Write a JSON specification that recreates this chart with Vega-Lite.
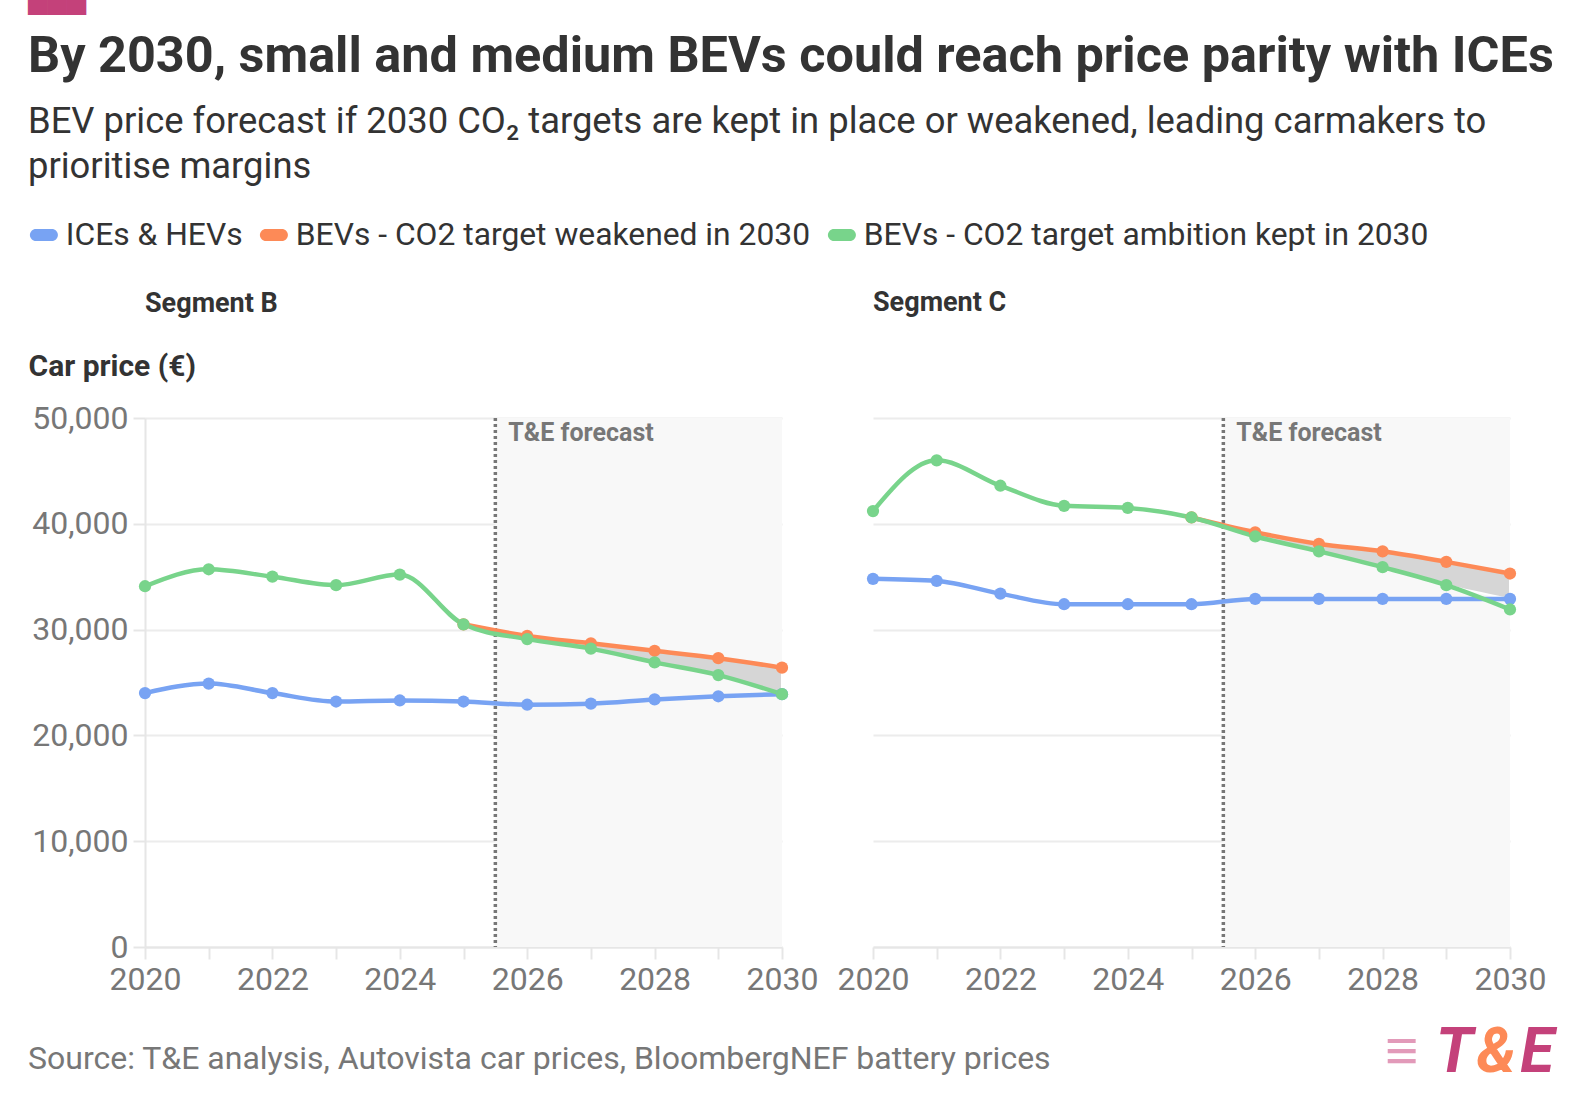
{
  "$schema": "https://vega.github.io/schema/vega-lite/v6.json",
  "background": "white",
  "padding": {"left": 28, "top": 0, "right": 10, "bottom": 10},
  "config": {
    "font": "Roboto",
    "view": {"stroke": null},
    "axis": {
      "labelFont": "Roboto",
      "labelFontSize": 32,
      "labelColor": "#777777",
      "gridColor": "#ececec",
      "gridWidth": 2,
      "domainColor": "#e6e6e6",
      "domainWidth": 2,
      "tickColor": "#e6e6e6",
      "tickWidth": 2,
      "tickSize": 12,
      "labelPadding": 5,
      "labelFlush": false,
      "labelOverlap": false
    },
    "legend": {
      "orient": "none",
      "legendX": -117,
      "legendY": -199,
      "direction": "horizontal",
      "title": null,
      "labelFontSize": 31.8,
      "labelColor": "#333333",
      "labelLimit": 700,
      "columnPadding": 15,
      "labelOffset": 6,
      "symbolSize": 784,
      "symbolStrokeWidth": 0,
      "symbolOpacity": 1,
      "symbolType": "M-0.57,-0.43L0.57,-0.43A0.43,0.43,0,0,1,0.57,0.43L-0.57,0.43A0.43,0.43,0,0,1,-0.57,-0.43Z"
    }
  },
  "title": {
    "text": "▀▀▀",
    "font": "DejaVu Sans Mono",
    "fontSize": 32,
    "fontWeight": "normal",
    "color": "#c4417a",
    "anchor": "start",
    "frame": "bounds",
    "offset": -1
  },
  "datasets": {
    "prices": [
      {"segment": "B", "series": "ICEs & HEVs", "year": 2020, "price": 24000},
      {"segment": "B", "series": "ICEs & HEVs", "year": 2021, "price": 24900},
      {"segment": "B", "series": "ICEs & HEVs", "year": 2022, "price": 24000},
      {"segment": "B", "series": "ICEs & HEVs", "year": 2023, "price": 23200},
      {"segment": "B", "series": "ICEs & HEVs", "year": 2024, "price": 23300},
      {"segment": "B", "series": "ICEs & HEVs", "year": 2025, "price": 23200},
      {"segment": "B", "series": "ICEs & HEVs", "year": 2026, "price": 22900},
      {"segment": "B", "series": "ICEs & HEVs", "year": 2027, "price": 23000},
      {"segment": "B", "series": "ICEs & HEVs", "year": 2028, "price": 23400},
      {"segment": "B", "series": "ICEs & HEVs", "year": 2029, "price": 23700},
      {"segment": "B", "series": "ICEs & HEVs", "year": 2030, "price": 23900},
      {"segment": "B", "series": "BEVs - CO2 target weakened in 2030", "year": 2025, "price": 30500},
      {"segment": "B", "series": "BEVs - CO2 target weakened in 2030", "year": 2026, "price": 29400},
      {"segment": "B", "series": "BEVs - CO2 target weakened in 2030", "year": 2027, "price": 28700},
      {"segment": "B", "series": "BEVs - CO2 target weakened in 2030", "year": 2028, "price": 28000},
      {"segment": "B", "series": "BEVs - CO2 target weakened in 2030", "year": 2029, "price": 27300},
      {"segment": "B", "series": "BEVs - CO2 target weakened in 2030", "year": 2030, "price": 26400},
      {"segment": "B", "series": "BEVs - CO2 target ambition kept in 2030", "year": 2020, "price": 34100},
      {"segment": "B", "series": "BEVs - CO2 target ambition kept in 2030", "year": 2021, "price": 35700},
      {"segment": "B", "series": "BEVs - CO2 target ambition kept in 2030", "year": 2022, "price": 35000},
      {"segment": "B", "series": "BEVs - CO2 target ambition kept in 2030", "year": 2023, "price": 34200},
      {"segment": "B", "series": "BEVs - CO2 target ambition kept in 2030", "year": 2024, "price": 35200},
      {"segment": "B", "series": "BEVs - CO2 target ambition kept in 2030", "year": 2025, "price": 30500},
      {"segment": "B", "series": "BEVs - CO2 target ambition kept in 2030", "year": 2026, "price": 29100},
      {"segment": "B", "series": "BEVs - CO2 target ambition kept in 2030", "year": 2027, "price": 28200},
      {"segment": "B", "series": "BEVs - CO2 target ambition kept in 2030", "year": 2028, "price": 26900},
      {"segment": "B", "series": "BEVs - CO2 target ambition kept in 2030", "year": 2029, "price": 25700},
      {"segment": "B", "series": "BEVs - CO2 target ambition kept in 2030", "year": 2030, "price": 23900},
      {"segment": "C", "series": "ICEs & HEVs", "year": 2020, "price": 34800},
      {"segment": "C", "series": "ICEs & HEVs", "year": 2021, "price": 34600},
      {"segment": "C", "series": "ICEs & HEVs", "year": 2022, "price": 33400},
      {"segment": "C", "series": "ICEs & HEVs", "year": 2023, "price": 32400},
      {"segment": "C", "series": "ICEs & HEVs", "year": 2024, "price": 32400},
      {"segment": "C", "series": "ICEs & HEVs", "year": 2025, "price": 32400},
      {"segment": "C", "series": "ICEs & HEVs", "year": 2026, "price": 32900},
      {"segment": "C", "series": "ICEs & HEVs", "year": 2027, "price": 32900},
      {"segment": "C", "series": "ICEs & HEVs", "year": 2028, "price": 32900},
      {"segment": "C", "series": "ICEs & HEVs", "year": 2029, "price": 32900},
      {"segment": "C", "series": "ICEs & HEVs", "year": 2030, "price": 32900},
      {"segment": "C", "series": "BEVs - CO2 target weakened in 2030", "year": 2025, "price": 40600},
      {"segment": "C", "series": "BEVs - CO2 target weakened in 2030", "year": 2026, "price": 39200},
      {"segment": "C", "series": "BEVs - CO2 target weakened in 2030", "year": 2027, "price": 38100},
      {"segment": "C", "series": "BEVs - CO2 target weakened in 2030", "year": 2028, "price": 37400},
      {"segment": "C", "series": "BEVs - CO2 target weakened in 2030", "year": 2029, "price": 36400},
      {"segment": "C", "series": "BEVs - CO2 target weakened in 2030", "year": 2030, "price": 35300},
      {"segment": "C", "series": "BEVs - CO2 target ambition kept in 2030", "year": 2020, "price": 41200},
      {"segment": "C", "series": "BEVs - CO2 target ambition kept in 2030", "year": 2021, "price": 46000},
      {"segment": "C", "series": "BEVs - CO2 target ambition kept in 2030", "year": 2022, "price": 43600},
      {"segment": "C", "series": "BEVs - CO2 target ambition kept in 2030", "year": 2023, "price": 41700},
      {"segment": "C", "series": "BEVs - CO2 target ambition kept in 2030", "year": 2024, "price": 41500},
      {"segment": "C", "series": "BEVs - CO2 target ambition kept in 2030", "year": 2025, "price": 40600},
      {"segment": "C", "series": "BEVs - CO2 target ambition kept in 2030", "year": 2026, "price": 38800},
      {"segment": "C", "series": "BEVs - CO2 target ambition kept in 2030", "year": 2027, "price": 37400},
      {"segment": "C", "series": "BEVs - CO2 target ambition kept in 2030", "year": 2028, "price": 35900},
      {"segment": "C", "series": "BEVs - CO2 target ambition kept in 2030", "year": 2029, "price": 34200},
      {"segment": "C", "series": "BEVs - CO2 target ambition kept in 2030", "year": 2030, "price": 31900}
    ],
    "gap": [
      {"segment": "B", "year": 2026, "low": 29100, "high": 29400},
      {"segment": "B", "year": 2027, "low": 28200, "high": 28700},
      {"segment": "B", "year": 2028, "low": 26900, "high": 28000},
      {"segment": "B", "year": 2029, "low": 25700, "high": 27300},
      {"segment": "B", "year": 2030, "low": 23900, "high": 26400},
      {"segment": "C", "year": 2026, "low": 38800, "high": 39200},
      {"segment": "C", "year": 2027, "low": 37400, "high": 38100},
      {"segment": "C", "year": 2028, "low": 35900, "high": 37400},
      {"segment": "C", "year": 2029, "low": 34200, "high": 36400},
      {"segment": "C", "year": 2030, "low": 32900, "high": 35300}
    ],
    "forecast": [
      {"start": 2025.5, "end": 2030, "top": 50000, "label": "T&E forecast"}
    ]
  },
  "vconcat": [
    {
      "title": {
        "text": "By 2030, small and medium BEVs could reach price parity with ICEs",
        "subtitle": [
          "BEV price forecast if 2030 CO₂ targets are kept in place or weakened, leading carmakers to",
          "prioritise margins"
        ],
        "anchor": "start",
        "frame": "bounds",
        "font": "Roboto",
        "fontSize": 50.4,
        "fontWeight": "bold",
        "color": "#333333",
        "subtitleFont": "Roboto",
        "subtitleFontSize": 36.4,
        "subtitleColor": "#333333",
        "subtitlePadding": 21,
        "subtitleLineHeight": 45,
        "offset": 104
      },
      "vconcat": [
        {
          "hconcat": [
            {
              "width": 637,
              "height": 529,
              "title": {"text": "Segment B", "anchor": "start", "frame": "group", "fontSize": 27, "fontWeight": "bold", "color": "#333333", "offset": 33},
              "layer": [
                {
                  "data": {"name": "forecast"},
                  "mark": {"type": "rect", "fill": "#f8f8f8"},
                  "encoding": {
                    "x": {"field": "start", "type": "quantitative", "scale": {"domain": [2020, 2030], "nice": false}},
                    "x2": {"field": "end"}
                  }
                },
                {
                  "data": {"name": "forecast"},
                  "mark": {"type": "rule", "strokeDash": [3, 3], "strokeWidth": 3.5, "color": "#777777"},
                  "encoding": {"x": {"field": "start", "type": "quantitative"}}
                },
                {
                  "data": {"name": "forecast"},
                  "mark": {"type": "text", "align": "left", "baseline": "top", "dx": 13, "dy": 3, "fontSize": 25, "fontWeight": "bold", "color": "#777777"},
                  "encoding": {
                    "x": {"field": "start", "type": "quantitative"},
                    "y": {"field": "top", "type": "quantitative"},
                    "text": {"field": "label"}
                  }
                },
                {
                  "data": {"name": "gap"},
                  "transform": [{"filter": "datum.segment == 'B'"}],
                  "mark": {"type": "area", "interpolate": "monotone", "fill": "#d6d6d6", "stroke": "white", "strokeWidth": 2},
                  "encoding": {
                    "x": {"field": "year", "type": "quantitative"},
                    "y": {"field": "low", "type": "quantitative"},
                    "y2": {"field": "high"}
                  }
                },
                {
                  "data": {"name": "prices"},
                  "transform": [{"filter": "datum.segment == 'B'"}],
                  "mark": {"type": "line", "interpolate": "monotone", "strokeWidth": 4.5},
                  "encoding": {
                    "x": {
                      "field": "year", "type": "quantitative",
                      "scale": {"domain": [2020, 2030], "nice": false},
                      "axis": {"title": null, "grid": false, "format": "d", "values": [2020, 2021, 2022, 2023, 2024, 2025, 2026, 2027, 2028, 2029, 2030], "labelExpr": "datum.value % 2 == 0 ? datum.label : ''"}
                    },
                    "y": {
                      "field": "price", "type": "quantitative",
                      "scale": {"domain": [0, 50000], "nice": false},
                      "axis": {"values": [0, 10000, 20000, 30000, 40000, 50000], "format": ",.0f", "title": "Car price (€)", "titleAngle": 0, "titleAlign": "left", "titleBaseline": "alphabetic", "titleX": -117, "titleY": -43, "titleFontSize": 30, "titleFontWeight": "bold", "titleColor": "#333333"}
                    },
                    "color": {
                      "field": "series", "type": "nominal",
                      "scale": {"domain": ["ICEs & HEVs", "BEVs - CO2 target weakened in 2030", "BEVs - CO2 target ambition kept in 2030"], "range": ["#78a3f3", "#fd8a57", "#78d48b"]}
                    },
                    "order": {"field": "year"}
                  }
                },
                {
                  "data": {"name": "prices"},
                  "transform": [{"filter": "datum.segment == 'B'"}],
                  "mark": {"type": "circle", "size": 150, "opacity": 1},
                  "encoding": {
                    "x": {"field": "year", "type": "quantitative"},
                    "y": {"field": "price", "type": "quantitative"},
                    "color": {"field": "series", "type": "nominal"}
                  }
                }
              ]
            },
            {
              "width": 637,
              "height": 529,
              "title": {"text": "Segment C", "anchor": "start", "frame": "group", "fontSize": 27, "fontWeight": "bold", "color": "#333333", "offset": 99},
              "layer": [
                {
                  "data": {"name": "forecast"},
                  "mark": {"type": "rect", "fill": "#f8f8f8"},
                  "encoding": {
                    "x": {"field": "start", "type": "quantitative", "scale": {"domain": [2020, 2030], "nice": false}},
                    "x2": {"field": "end"}
                  }
                },
                {
                  "data": {"name": "forecast"},
                  "mark": {"type": "rule", "strokeDash": [3, 3], "strokeWidth": 3.5, "color": "#777777"},
                  "encoding": {"x": {"field": "start", "type": "quantitative"}}
                },
                {
                  "data": {"name": "forecast"},
                  "mark": {"type": "text", "align": "left", "baseline": "top", "dx": 13, "dy": 3, "fontSize": 25, "fontWeight": "bold", "color": "#777777"},
                  "encoding": {
                    "x": {"field": "start", "type": "quantitative"},
                    "y": {"field": "top", "type": "quantitative"},
                    "text": {"field": "label"}
                  }
                },
                {
                  "data": {"name": "gap"},
                  "transform": [{"filter": "datum.segment == 'C'"}],
                  "mark": {"type": "area", "interpolate": "monotone", "fill": "#d6d6d6", "stroke": "white", "strokeWidth": 2},
                  "encoding": {
                    "x": {"field": "year", "type": "quantitative"},
                    "y": {"field": "low", "type": "quantitative"},
                    "y2": {"field": "high"}
                  }
                },
                {
                  "data": {"name": "prices"},
                  "transform": [{"filter": "datum.segment == 'C'"}],
                  "mark": {"type": "line", "interpolate": "monotone", "strokeWidth": 4.5},
                  "encoding": {
                    "x": {
                      "field": "year", "type": "quantitative",
                      "scale": {"domain": [2020, 2030], "nice": false},
                      "axis": {"title": null, "grid": false, "format": "d", "values": [2020, 2021, 2022, 2023, 2024, 2025, 2026, 2027, 2028, 2029, 2030], "labelExpr": "datum.value % 2 == 0 ? datum.label : ''"}
                    },
                    "y": {
                      "field": "price", "type": "quantitative",
                      "scale": {"domain": [0, 50000], "nice": false},
                      "axis": {"values": [0, 10000, 20000, 30000, 40000, 50000], "title": null, "labels": false, "ticks": false, "domain": false}
                    },
                    "color": {"field": "series", "type": "nominal"},
                    "order": {"field": "year"}
                  }
                },
                {
                  "data": {"name": "prices"},
                  "transform": [{"filter": "datum.segment == 'C'"}],
                  "mark": {"type": "circle", "size": 150, "opacity": 1},
                  "encoding": {
                    "x": {"field": "year", "type": "quantitative"},
                    "y": {"field": "price", "type": "quantitative"},
                    "color": {"field": "series", "type": "nominal"}
                  }
                }
              ]
            }
          ],
          "spacing": 19,
          "resolve": {"scale": {"x": "independent", "y": "independent"}}
        },
        {
          "width": 1395,
          "height": 50,
          "data": {"values": [{"source": "Source: T&E analysis, Autovista car prices, BloombergNEF battery prices"}]},
          "layer": [
            {
              "mark": {"type": "text", "align": "left", "baseline": "middle", "fontSize": 32, "color": "#777777", "x": -117, "y": 25},
              "encoding": {"text": {"field": "source"}}
            },
            {
              "mark": {"type": "text", "align": "right", "baseline": "middle", "fontSize": 62, "fontWeight": "bold", "fontStyle": "italic", "color": "#c4417a", "x": 1409, "y": 19, "text": "E"}
            },
            {
              "mark": {"type": "text", "align": "right", "baseline": "middle", "fontSize": 62, "fontWeight": "bold", "fontStyle": "italic", "color": "#fd8a57", "x": 1371, "y": 19, "text": "&"}
            },
            {
              "mark": {"type": "text", "align": "right", "baseline": "middle", "fontSize": 62, "fontWeight": "bold", "fontStyle": "italic", "color": "#c4417a", "x": 1328, "y": 19, "text": "T"}
            },
            {
              "mark": {"type": "text", "align": "right", "baseline": "middle", "fontSize": 60, "fontWeight": "bold", "color": "#e29ab9", "x": 1274, "y": 19, "text": "≡"}
            }
          ]
        }
      ],
      "spacing": 27
    }
  ]
}
